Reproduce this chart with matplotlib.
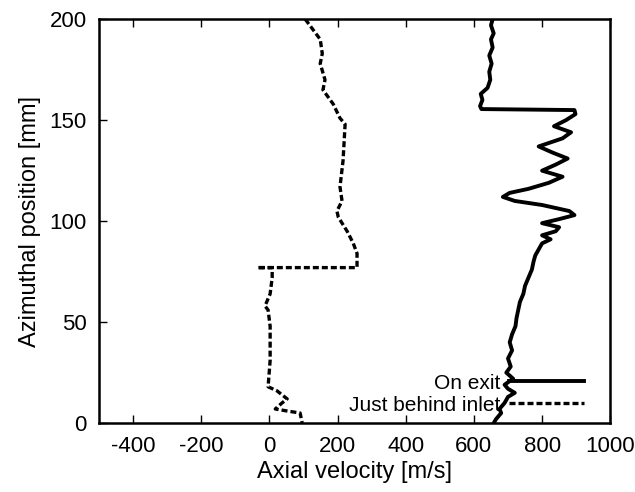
import matplotlib
matplotlib.use("Agg")
import matplotlib.pyplot as plt

plt.rcParams["font.family"] = ["Liberation Sans", "DejaVu Sans"]
plt.rcParams["axes.unicode_minus"] = False

# On exit (solid): axial velocity [m/s] vs azimuthal position [mm]
exit_pos = [200, 197, 193, 190, 186, 182, 178, 174, 170, 166, 163, 160, 157, 155.5,
            155, 153, 150, 147, 144, 141, 137, 134, 131, 128, 125, 122, 119, 116,
            114, 112, 110, 108, 105, 103, 101, 99, 97, 95, 93, 91, 89, 86, 83, 80,
            76, 72, 68, 64, 60, 56, 52, 48, 44, 40, 36, 32, 28, 25, 22, 19, 17, 15,
            13, 10, 7, 5, 2, 0]
exit_vel = [655, 650, 658, 650, 655, 645, 652, 645, 648, 640, 620, 625, 618, 622,
            895, 898, 870, 835, 885, 860, 790, 830, 875, 840, 800, 860, 820, 760,
            705, 685, 720, 800, 880, 895, 850, 800, 850, 840, 800, 825, 800, 790, 780, 775,
            770, 760, 750, 745, 735, 730, 725, 722, 712, 705, 712, 700, 708, 695, 715, 690, 700, 720,
            700, 690, 675, 680, 665, 658]

# Just behind inlet (dashed)
inlet_pos = [200, 190, 183, 178, 170, 165, 158, 151, 148, 130, 117, 110, 105, 102,
             95, 89, 84, 77, 77, 77, 72, 64, 58, 56, 48, 31, 18, 16, 12, 10, 7, 6, 5, 0]
inlet_vel = [105, 149, 155, 149, 163, 157, 187, 207, 222, 216, 207, 213, 198, 202,
             228, 246, 257, 257, -36, 8, 8, 2, -13, -4, 2, 2, -4, 22, 52, 37, 17, 52, 90, 96]

fig, ax = plt.subplots(figsize=(6.35, 4.92), dpi=100)
fig.subplots_adjust(left=0.156, right=0.961, bottom=0.140, top=0.961)

ax.plot(exit_vel, exit_pos, color="black", lw=2.8, label="On exit")
ax.plot(inlet_vel, inlet_pos, color="black", lw=2.4, ls=(0, (1.8, 0.9)),
        label="Just behind inlet")

ax.set_xlim(-500, 1000)
ax.set_ylim(0, 200)
ax.set_xticks([-400, -200, 0, 200, 400, 600, 800, 1000])
ax.set_yticks([0, 50, 100, 150, 200])
ax.tick_params(direction="in", length=6, width=1, labelsize=16, top=True, right=False, pad=9)
for s in ax.spines.values():
    s.set_linewidth(1.8)

ax.set_xlabel("Axial velocity [m/s]", fontsize=17, labelpad=3)
ax.set_ylabel("Azimuthal position [mm]", fontsize=17, labelpad=6)

ax.legend(loc="lower right", bbox_to_anchor=(0.965, 0.0), frameon=False, markerfirst=False,
          fontsize=15, handlelength=3.6, handletextpad=0.4, labelspacing=0.15,
          borderaxespad=0)

fig.savefig("out.png", dpi=100)
